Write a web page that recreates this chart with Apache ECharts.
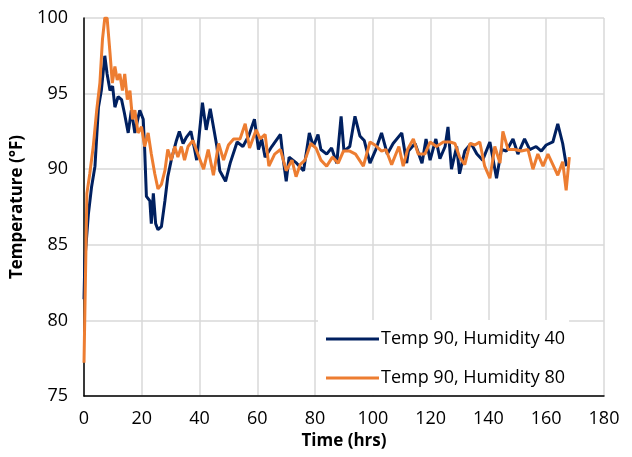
<!DOCTYPE html>
<html lang="en">
<head>
    <meta charset="utf-8">
    <title>Temperature vs Time</title>
    <script src="https://cdn.jsdelivr.net/npm/echarts@6/dist/echarts.min.js"></script>
    <style>
        html, body { margin: 0; padding: 0; background: #fff; }
        #main { width: 632px; height: 457px; }
    </style>
</head>
<body>
    <div id="main"></div>

    <script type="text/javascript">
    // Temp 90, Humidity 40 (hours, °F)
    var timeH40 = [0, 0.3, 1.5, 2.6, 3.8, 5, 6, 7.2, 8, 9, 9.9, 10.7, 11.8, 13, 14, 15.3, 16.4, 17.6, 19.3, 20.5,
        21, 21.6, 22.8, 23.3, 24, 24.8, 25.6, 26.8, 28, 29, 30.2, 32, 33, 34.3, 35.4, 37, 38.3, 39, 41,
        42.3, 43.7, 45, 46, 47, 49, 50.6, 53, 55, 57, 59, 60.4, 61.5, 62.7, 65, 68, 69, 70, 71, 73.6,
        76, 78, 79.4, 81, 82, 84, 85.7, 87.5, 89, 90, 92, 93.8, 95.5, 97, 99, 101, 103, 105, 107, 110,
        111.7, 112.3, 114.6, 117, 118.4, 119.8, 121.8, 123.2, 125, 126, 127.2, 129, 130, 131.8, 134, 136,
        138, 140.5, 142.8, 144.5, 146.2, 148.5, 150.2, 152.5, 154.3, 156.5, 158.3, 160, 162.3, 164,
        165.7, 167];
    var tempH40 = [81.4, 84, 87, 88.8, 90.2, 94.1, 95.2, 97.5, 96.3, 95.2, 95.5, 94.1, 94.8, 94.6, 93.7, 92.4, 93.9, 92.4, 93.9, 93.3,
        91.3, 88.2, 87.9, 86.4, 88.4, 86.4, 86, 86.2, 87.9, 89.5, 90.6, 91.9, 92.5, 91.7, 92.1, 92.5, 91.3, 90.6, 94.4,
        92.6, 94, 92.6, 91.5, 89.9, 89.2, 90.4, 91.8, 91.5, 92.2, 93.3, 91.3, 92, 90.8, 91.5, 92.3, 90.6, 89.2, 90.8, 90.4,
        89.9, 92.4, 91.5, 92.3, 91.3, 91, 91.4, 90.4, 93.5, 91.2, 91.5, 93.5, 92.2, 91.9, 90.4, 91.3, 92.4, 91, 91.7, 92.4,
        90.4, 91.2, 91.7, 90.4, 92, 90.6, 92, 90.7, 91.5, 92.8, 90, 91.5, 89.7, 91.2, 91.7, 91,
        90.6, 91.8, 89.4, 91.3, 91.2, 92, 91, 92, 91.3, 91.5, 91.2, 91.6, 91.8, 93,
        91.7, 90.2];

    // Temp 90, Humidity 80 (hours, °F)
    var timeH80 = [0, 1, 2, 3.2, 4.4, 5.5, 6.4, 7.2, 8, 9, 9.8, 10.7, 11.5, 12.4, 13.3, 14.1, 15, 15.9, 16.8, 17.6,
        18.7, 19.9, 21, 22.2, 23.3, 24.5, 25.6, 26.8, 28, 29, 30.2, 31.4, 32.5, 33.7, 34.8, 36, 37.7, 39.4,
        41.4, 43, 44.8, 46.6, 48.3, 50, 51.8, 54, 55.8, 57.3, 59.6, 61, 62.7, 64, 66, 68, 70, 72, 73.4,
        74.8, 76.5, 78.5, 80.3, 82, 84, 86, 88, 89.8, 92, 94, 96.7, 99, 100.7, 103, 104.5, 106.5, 109,
        110.5, 112, 114, 115.7, 118, 119.8, 122, 124.4, 126.7, 128.4, 130, 131.8, 133.6, 135.3, 137,
        138.7, 140.5, 142.2, 144, 145, 146.8, 149, 151.4, 153.7, 155.4, 157.1, 158.9, 160.6, 162.3,
        164, 165.7, 166.9, 168];
    var tempH80 = [77.2, 88.4, 89.7, 91.5, 93.9, 95.7, 98.6, 100, 100, 97.7, 95.7, 96.8, 95.9, 96.3, 95.2, 96.3, 94.6, 95.2, 93.3, 93.9,
        92.4, 92.8, 91.5, 92.4, 91, 89.7, 88.7, 89, 89.9, 91.3, 90.6, 91.5, 90.8, 91.5, 90.6, 91.5, 91.9, 91,
        90, 91.3, 89.6, 91.7, 90.6, 91.6, 92, 92, 93, 91.4, 92.6, 92, 92.3, 90.2, 91, 91.3, 89.9, 90.6, 89.5,
        90.3, 90.6, 91.7, 91.4, 90.6, 90.2, 90.8, 90.4, 91.2, 91.2, 91, 90.2, 91.8, 91.6, 91.2, 91.3, 90.3, 91.5,
        90.2, 91.3, 92, 91, 91, 91.8, 91.5, 91.8, 91.8, 91.7, 90.8, 90.3, 91.7, 91.6, 91.8,
        90.2, 89.4, 91.5, 90.4, 92.5, 91.3, 91.3, 91.2, 91.3, 90, 91, 90.2, 91, 90.3,
        89.6, 90.5, 88.6, 90.8];

    var xTicks = [0, 180, 20];   // min, max, interval
    var yTicks = [75, 100, 5];

    function pairs(xs, ys) {
        return xs.map(function (x, i) { return [x, ys[i]]; });
    }

    var myChart = echarts.init(document.getElementById('main'));
    var font = '"Open Sans", Lato, sans-serif';

    myChart.setOption({
        animation: false,
        textStyle: { fontFamily: font },
        grid: { left: 84, right: 28, top: 18, bottom: 61 },
        legend: {
            orient: 'vertical',
            left: 318,
            top: 320,
            padding: [10, 4, 8, 8],
            itemGap: 21,
            itemWidth: 53,
            itemHeight: 3,
            icon: 'rect',
            backgroundColor: '#fff',
            textStyle: { fontSize: 18, color: '#000', fontFamily: font, padding: [0, 0, 0, -3] },
            data: ['Temp 90, Humidity 40', 'Temp 90, Humidity 80']
        },
        xAxis: {
            type: 'value',
            min: xTicks[0], max: xTicks[1], interval: xTicks[2],
            name: 'Time (hrs)',
            nameLocation: 'middle',
            nameGap: 37,
            nameTextStyle: { fontSize: 17, fontWeight: 'bold', color: '#000', fontFamily: font },
            axisLine: { lineStyle: { color: '#000', width: 1.5 } },
            axisTick: { show: false },
            axisLabel: { fontSize: 18, color: '#000', margin: 14, fontFamily: font },
            splitLine: { show: true, lineStyle: { color: '#d9d9d9', width: 1.5 } }
        },
        yAxis: {
            type: 'value',
            min: yTicks[0], max: yTicks[1], interval: yTicks[2],
            name: 'Temperature (°F)',
            nameLocation: 'middle',
            nameGap: 58,
            nameTextStyle: { fontSize: 17, fontWeight: 'bold', color: '#000', fontFamily: font },
            axisLine: { show: true, lineStyle: { color: '#000', width: 1.5 } },
            axisTick: { show: false },
            axisLabel: { fontSize: 18, color: '#000', margin: 16, fontFamily: font },
            splitLine: { show: true, lineStyle: { color: '#d9d9d9', width: 1.5 } }
        },
        series: [{
            name: 'Temp 90, Humidity 40',
            type: 'line',
            symbol: 'none',
            color: '#002060',
            lineStyle: { width: 3, color: '#002060' },
            data: pairs(timeH40, tempH40)
        }, {
            name: 'Temp 90, Humidity 80',
            type: 'line',
            symbol: 'none',
            color: '#ED7D31',
            lineStyle: { width: 3, color: '#ED7D31' },
            data: pairs(timeH80, tempH80)
        }]
    });
    </script>
</body>
</html>
